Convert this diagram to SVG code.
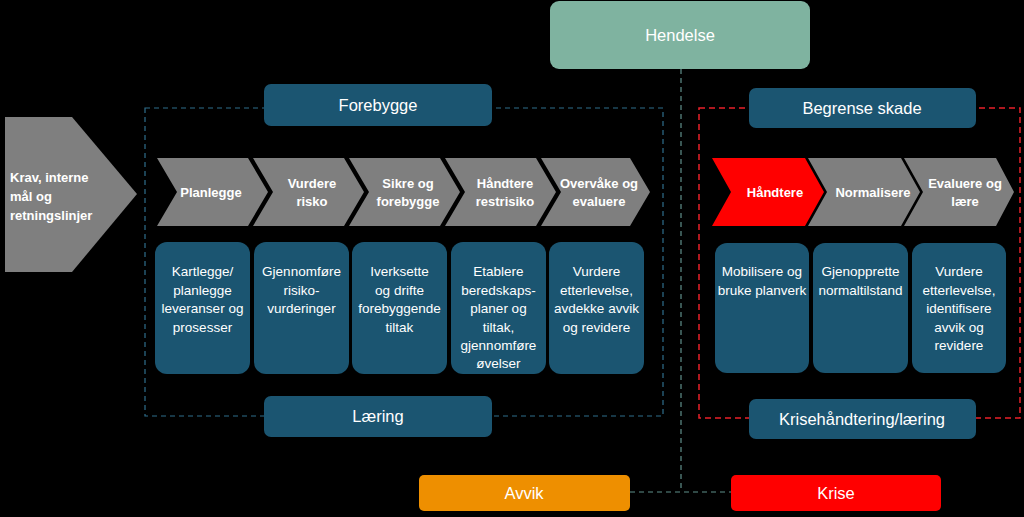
<svg xmlns="http://www.w3.org/2000/svg" width="1024" height="517" viewBox="0 0 1024 517">
<style>
.bg{fill:#000}
.chev{fill:#7f7f7f}
.chevr{fill:#ff0000}
.box{fill:#1b5571}
.ct{font-family:"Liberation Sans",Arial,sans-serif;font-weight:bold;font-size:13px;fill:#fff;text-anchor:middle}
.bt{font-family:"Liberation Sans",Arial,sans-serif;font-size:13.5px;fill:#fff;text-anchor:middle}
.tt{font-family:"Liberation Sans",Arial,sans-serif;font-size:16.5px;fill:#fff;text-anchor:middle}
.dashb{fill:none;stroke:#2f6e8c;stroke-width:1.2;stroke-dasharray:5 4}
.dashr{fill:none;stroke:#e8202a;stroke-width:1.5;stroke-dasharray:6 4}
.conn{fill:none;stroke:#5f8f8a;stroke-width:1.2;stroke-dasharray:5 4}
</style>
<rect class="bg" x="0" y="0" width="1024" height="517"/>

<g id="frames">
<rect class="dashb" x="145" y="108" width="518" height="308"/>
<rect class="dashr" x="699" y="108" width="321" height="310"/>
</g>

<g id="connectors">
<line class="conn" x1="681" y1="69" x2="681" y2="492"/>
<line class="conn" x1="630" y1="492" x2="731" y2="492"/>
</g>

<g id="hendelse">
<rect x="550" y="1" width="260" height="68" rx="9" fill="#7fb3a0"/>
<text class="tt" x="680" y="41" font-size="17">Hendelse</text>
</g>

<g id="forebygge">
<rect class="box" x="264" y="84" width="228" height="42" rx="7"/>
<text class="tt" x="378" y="111">Forebygge</text>
</g>

<g id="laering">
<rect class="box" x="264" y="396" width="228" height="41" rx="7"/>
<text class="tt" x="378" y="422">Læring</text>
</g>

<g id="begrense">
<rect class="box" x="749" y="88" width="227" height="40" rx="7"/>
<text class="tt" x="862" y="114">Begrense skade</text>
</g>

<g id="krisehandtering">
<rect class="box" x="749" y="399" width="227" height="40" rx="7"/>
<text class="tt" x="862" y="425">Krisehåndtering/læring</text>
</g>

<g id="avvik">
<rect x="419" y="475" width="211" height="36" rx="5" fill="#ee8f00"/>
<text class="tt" x="524" y="499" font-size="16">Avvik</text>
</g>

<g id="krise">
<rect x="731" y="475" width="210" height="36" rx="5" fill="#ff0000"/>
<text class="tt" x="836" y="499" font-size="16">Krise</text>
</g>

<g id="krav">
<polygon class="chev" points="5,117 72,117 137,194 72,272 5,272"/>
<text class="ct" x="10" y="182" text-anchor="start" style="text-anchor:start">Krav, interne</text>
<text class="ct" x="10" y="201" style="text-anchor:start">mål og</text>
<text class="ct" x="10" y="220" style="text-anchor:start">retningslinjer</text>
</g>

<g id="planlegge">
<polygon class="chev" points="157,158 248,158 268,192 248,226 157,226 177,192"/>
<text class="ct" x="211" y="197">Planlegge</text>
</g>
<g id="vurdere-risko">
<polygon class="chev" points="253,158 344,158 364,192 344,226 253,226 273,192"/>
<text class="ct" x="312" y="188">Vurdere</text>
<text class="ct" x="312" y="206">risko</text>
</g>
<g id="sikre">
<polygon class="chev" points="349,158 440,158 460,192 440,226 349,226 369,192"/>
<text class="ct" x="408" y="188">Sikre og</text>
<text class="ct" x="408" y="206">forebygge</text>
</g>
<g id="handtere-rest">
<polygon class="chev" points="445,158 536,158 556,192 536,226 445,226 465,192"/>
<text class="ct" x="505" y="188">Håndtere</text>
<text class="ct" x="505" y="206">restrisiko</text>
</g>
<g id="overvake">
<polygon class="chev" points="541,158 630,158 650,192 630,226 541,226 561,192"/>
<text class="ct" x="599" y="188">Overvåke og</text>
<text class="ct" x="599" y="206">evaluere</text>
</g>

<g id="handtere">
<polygon class="chevr" points="712,158 805,158 824,192 805,226 712,226 731,192"/>
<text class="ct" x="775" y="197">Håndtere</text>
</g>
<g id="normalisere">
<polygon class="chev" points="808,158 901,158 920,192 901,226 808,226 827,192"/>
<text class="ct" x="873" y="197">Normalisere</text>
</g>
<g id="evaluere">
<polygon class="chev" points="904,158 996,158 1014,192 996,226 904,226 923,192"/>
<text class="ct" x="965" y="188">Evaluere og</text>
<text class="ct" x="965" y="206">lære</text>
</g>

<g id="box-kartlegge">
<rect class="box" x="155" y="242" width="95" height="132" rx="12"/>
<text class="bt" x="202.5" y="276">Kartlegge/</text>
<text class="bt" x="202.5" y="295">planlegge</text>
<text class="bt" x="202.5" y="313">leveranser og</text>
<text class="bt" x="202.5" y="332">prosesser</text>
</g>
<g id="box-gjennomfore">
<rect class="box" x="254" y="242" width="95" height="132" rx="12"/>
<text class="bt" x="301.5" y="276">Gjennomføre</text>
<text class="bt" x="301.5" y="295">risiko-</text>
<text class="bt" x="301.5" y="313">vurderinger</text>
</g>
<g id="box-iverksette">
<rect class="box" x="352" y="242" width="95" height="132" rx="12"/>
<text class="bt" x="399.5" y="276">Iverksette</text>
<text class="bt" x="399.5" y="295">og drifte</text>
<text class="bt" x="399.5" y="313">forebyggende</text>
<text class="bt" x="399.5" y="332">tiltak</text>
</g>
<g id="box-etablere">
<rect class="box" x="451" y="242" width="95" height="132" rx="12"/>
<text class="bt" x="498.5" y="276">Etablere</text>
<text class="bt" x="498.5" y="295">beredskaps-</text>
<text class="bt" x="498.5" y="313">planer og</text>
<text class="bt" x="498.5" y="332">tiltak,</text>
<text class="bt" x="498.5" y="350">gjennomføre</text>
<text class="bt" x="498.5" y="368">øvelser</text>
</g>
<g id="box-vurdere-etterlevelse">
<rect class="box" x="549" y="242" width="95" height="132" rx="12"/>
<text class="bt" x="596.5" y="276">Vurdere</text>
<text class="bt" x="596.5" y="295">etterlevelse,</text>
<text class="bt" x="596.5" y="313">avdekke avvik</text>
<text class="bt" x="596.5" y="332">og revidere</text>
</g>

<g id="box-mobilisere">
<rect class="box" x="715" y="243" width="94" height="130" rx="12"/>
<text class="bt" x="762" y="276">Mobilisere og</text>
<text class="bt" x="762" y="295">bruke planverk</text>
</g>
<g id="box-gjenopprette">
<rect class="box" x="813" y="243" width="95" height="130" rx="12"/>
<text class="bt" x="860.5" y="276">Gjenopprette</text>
<text class="bt" x="860.5" y="295">normaltilstand</text>
</g>
<g id="box-vurdere-identifisere">
<rect class="box" x="912" y="243" width="94" height="130" rx="12"/>
<text class="bt" x="959" y="276">Vurdere</text>
<text class="bt" x="959" y="295">etterlevelse,</text>
<text class="bt" x="959" y="313">identifisere</text>
<text class="bt" x="959" y="332">avvik og</text>
<text class="bt" x="959" y="350">revidere</text>
</g>
</svg>
